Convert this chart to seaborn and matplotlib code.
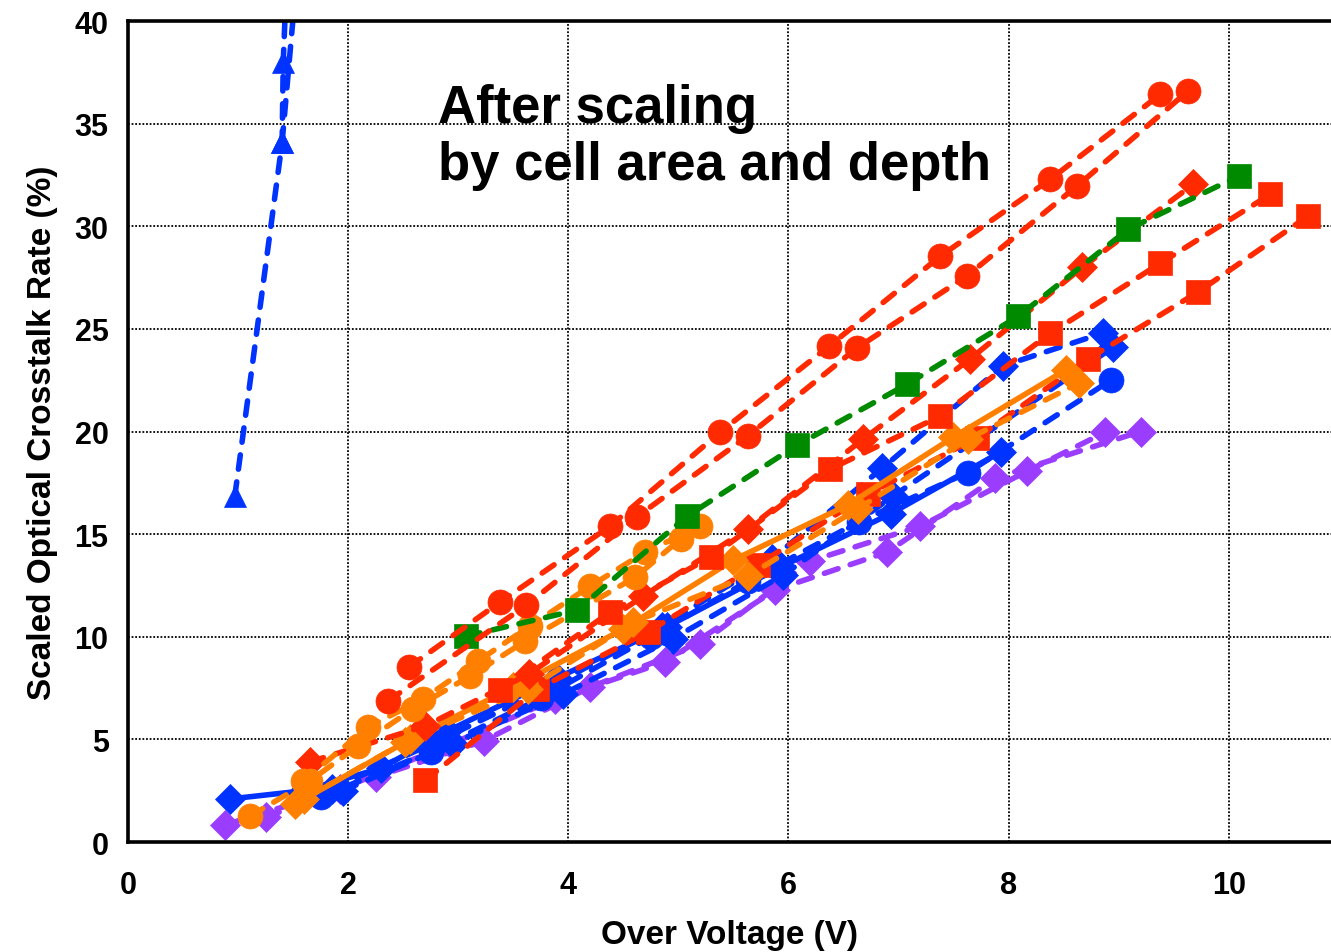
import matplotlib
matplotlib.use("Agg")
import matplotlib.pyplot as plt
import pandas as pd
import seaborn as sns

# Series (x = over voltage in V, y = scaled crosstalk in %)
tri_x = [0.97, 1.40, 1.41, 1.44]
tri_y = [16.85, 34.1, 38.0, 42.0]
tri2_x = [1.40, 1.53]
tri2_y = [34.1, 42.0]

red_circ_a_x = [2.55, 3.38, 4.38, 5.38, 6.37, 7.38, 8.38, 9.38]
red_circ_a_y = [8.52, 11.69, 15.39, 19.97, 24.16, 28.54, 32.29, 36.43]
red_circ_b_x = [2.36, 3.62, 4.62, 5.63, 6.62, 7.62, 8.62, 9.63]
red_circ_b_y = [6.87, 11.54, 15.83, 19.78, 24.06, 27.57, 31.95, 36.58]

green_sq_x = [3.07, 4.08, 5.08, 6.08, 7.08, 8.09, 9.09, 10.09]
green_sq_y = [10.03, 11.3, 15.88, 19.34, 22.31, 25.62, 29.86, 32.44]

red_sq_a_x = [3.38, 4.38, 5.3, 6.38, 7.38, 8.38, 9.38, 10.38]
red_sq_a_y = [7.4, 11.2, 13.9, 18.17, 20.75, 24.79, 28.2, 31.56]
red_sq_b_x = [2.7, 3.72, 4.72, 5.72, 6.72, 7.71, 8.72, 9.72, 10.72]
red_sq_b_y = [3.0, 7.45, 10.23, 13.49, 16.95, 19.68, 23.53, 26.79, 30.49]

red_dia_x = [1.65, 2.7, 3.64, 4.68, 5.63, 6.68, 7.65, 8.67, 9.68]
red_dia_y = [3.9, 5.65, 8.18, 11.98, 15.25, 19.63, 23.53, 28.0, 32.05]

orange_circ_a_x = [1.59, 2.18, 2.68, 3.18, 3.65, 4.2, 4.7, 5.2]
orange_circ_a_y = [2.97, 5.6, 6.97, 8.82, 10.52, 12.47, 14.13, 15.39]
orange_circ_b_x = [1.11, 1.65, 2.09, 2.59, 3.11, 3.61, 4.61, 5.02]
orange_circ_b_y = [1.27, 2.97, 4.68, 6.48, 8.09, 9.79, 12.91, 14.76]

orange_dia_a_x = [1.52, 2.52, 3.5, 4.5, 5.5, 6.54, 7.5, 8.52]
orange_dia_a_y = [1.85, 4.87, 7.55, 10.37, 13.74, 16.42, 19.73, 23.0]
orange_dia_b_x = [1.6, 2.56, 3.63, 4.59, 5.63, 6.63, 7.63, 8.64]
orange_dia_b_y = [2.1, 5.0, 7.45, 10.71, 12.96, 16.23, 19.63, 22.36]

blue_solid_x = [0.93, 1.6, 2.3, 2.9, 3.9, 4.9, 5.93, 6.93, 7.93]
blue_solid_y = [2.1, 2.5, 3.6, 5.4, 8.0, 10.5, 13.4, 16.0, 19.0]
blue_circ_x = [1.75, 2.75, 3.75, 4.75, 5.63, 6.64, 7.63, 8.93]
blue_circ_y = [2.2, 4.4, 7.0, 10.0, 12.7, 15.6, 18.0, 22.5]
blue_dia_a_x = [1.85, 2.85, 3.85, 4.85, 5.85, 6.85, 7.95, 8.86]
blue_dia_a_y = [2.6, 5.0, 7.6, 10.5, 13.8, 18.2, 23.2, 24.8]
blue_dia_b_x = [1.95, 2.95, 3.95, 4.95, 5.95, 6.95, 8.95]
blue_dia_b_y = [2.5, 4.8, 7.2, 9.9, 13.0, 16.85, 24.1]

purple_a_x = [0.88, 1.93, 2.93, 3.88, 4.88, 5.88, 6.9, 7.88, 9.2]
purple_a_y = [0.83, 2.58, 4.77, 6.96, 8.77, 12.28, 14.13, 17.73, 20.0]
purple_b_x = [1.25, 2.25, 3.23, 4.2, 5.2, 6.2, 7.2, 8.17, 8.88]
purple_b_y = [1.22, 3.17, 4.92, 7.55, 9.64, 13.69, 15.39, 18.07, 19.97]

RED = "#ff2a00"
ORANGE = "#ff8000"
GREEN = "#008a00"
BLUE = "#0033ff"
PURPLE = "#9b3dff"

series = [
    (purple_a_x, purple_a_y, PURPLE, "D", "--"),
    (purple_b_x, purple_b_y, PURPLE, "D", "--"),
    (blue_dia_b_x, blue_dia_b_y, BLUE, "D", "--"),
    (blue_dia_a_x, blue_dia_a_y, BLUE, "D", "--"),
    (blue_circ_x, blue_circ_y, BLUE, "o", "--"),
    (blue_solid_x, blue_solid_y, BLUE, "D", "-"),
    (red_sq_b_x, red_sq_b_y, RED, "s", "--"),
    (orange_dia_b_x, orange_dia_b_y, ORANGE, "D", "--"),
    (orange_dia_a_x, orange_dia_a_y, ORANGE, "D", "-"),
    (red_dia_x, red_dia_y, RED, "D", "--"),
    (red_sq_a_x, red_sq_a_y, RED, "s", "--"),
    (orange_circ_b_x, orange_circ_b_y, ORANGE, "o", "--"),
    (orange_circ_a_x, orange_circ_a_y, ORANGE, "o", "--"),
    (green_sq_x, green_sq_y, GREEN, "s", "--"),
    (red_circ_b_x, red_circ_b_y, RED, "o", "--"),
    (red_circ_a_x, red_circ_a_y, RED, "o", "--"),
    (tri_x, tri_y, BLUE, "^", "--"),
    (tri2_x, tri2_y, BLUE, "^", "--"),
]

sns.set_style("white")
plt.rcParams["font.family"] = ["Liberation Sans", "DejaVu Sans"]
plt.rcParams["text.color"] = "black"
plt.rcParams["axes.labelcolor"] = "black"
plt.rcParams["xtick.color"] = "black"
plt.rcParams["ytick.color"] = "black"

fig = plt.figure(figsize=(13.31, 9.53), dpi=100)
ax = fig.add_axes([0.0962, 0.1154, 0.9038, 0.8615])

msizes = {"o": 18, "s": 17, "D": 15, "^": 16}
for xs, ys, col, mk, ls in series:
    df = pd.DataFrame({"V": xs, "CT": ys})
    style = (0, (2.6, 2.3)) if ls == "--" else "-"
    sns.lineplot(data=df, x="V", y="CT", ax=ax, color=col, marker=mk,
                 markersize=msizes[mk], markeredgecolor=col, markeredgewidth=0.5,
                 linewidth=4.0, linestyle=style,
                 estimator=None, sort=False, legend=False)
    ax.lines[-1].set_dash_capstyle("round")
    ax.lines[-1].set_solid_capstyle("round")

ax.set_xlim(0, 10.93)
ax.set_ylim(0, 40)
ax.set_xticks([0, 2, 4, 6, 8, 10])
ax.set_yticks(range(0, 41, 5))
ax.grid(True, color="black", linestyle=(0, (1, 1)), linewidth=1.3)
ax.set_axisbelow(True)
for side in ["left", "bottom", "top"]:
    ax.spines[side].set_visible(True)
    ax.spines[side].set_color("black")
    ax.spines[side].set_linewidth(2.6)
ax.spines["right"].set_visible(False)
ax.tick_params(length=0, labelsize=22)
ax.tick_params(axis="x", pad=20)
ax.tick_params(axis="y", pad=14)
for lab in ax.get_xticklabels() + ax.get_yticklabels():
    lab.set_fontweight("bold")

ax.set_xlabel("Over Voltage (V)", fontsize=24, fontweight="bold", labelpad=14)
ax.set_ylabel("Scaled Optical Crosstalk Rate (%)", fontsize=24, fontweight="bold", labelpad=12)

ax.text(2.82, 37.0, "After scaling\nby cell area and depth", fontsize=38,
        fontweight="bold", va="top", ha="left", linespacing=1.2)

fig.savefig("out.png", dpi=100)
